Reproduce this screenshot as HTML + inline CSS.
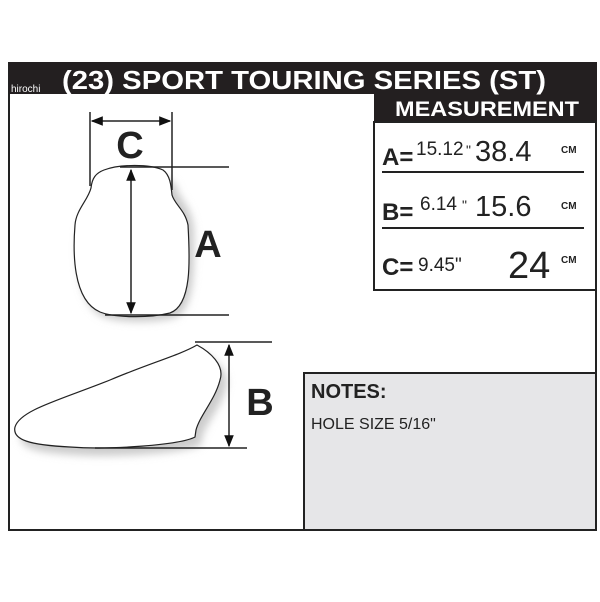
<!DOCTYPE html>
<html><head><style>
body{margin:0;width:600px;height:597px;background:#fff;overflow:hidden;font-family:"Liberation Sans",sans-serif}
</style></head><body>
<svg width="600" height="597" viewBox="0 0 600 597" xmlns="http://www.w3.org/2000/svg">
<defs>
<marker id="ah" viewBox="0 0 10 10" refX="9" refY="5" markerWidth="8" markerHeight="8" orient="auto-start-reverse"><path d="M0,1 L10,5 L0,9 Z" fill="#111"/></marker>
<filter id="sh" x="-20%" y="-20%" width="140%" height="140%"><feGaussianBlur stdDeviation="4"/></filter>
</defs>
<rect x="9" y="63" width="587" height="467" fill="#fff" stroke="#222" stroke-width="2"/>
<rect x="9" y="62" width="588" height="32" fill="#231f20"/>
<rect x="374" y="92" width="223" height="30" fill="#231f20"/>
<text x="62" y="89" fill="#fff" font-size="26" font-weight="bold" textLength="484" lengthAdjust="spacingAndGlyphs">(23) SPORT TOURING SERIES  (ST)</text>
<text x="11" y="92" fill="#fff" font-size="10">hirochi</text>
<text x="395" y="116" fill="#fff" font-size="21" font-weight="bold" textLength="184" lengthAdjust="spacingAndGlyphs">MEASUREMENT</text>
<rect x="374" y="122" width="222" height="168" fill="#fff" stroke="#222" stroke-width="2"/>
<line x1="382" y1="172" x2="584" y2="172" stroke="#222" stroke-width="2"/>
<line x1="382" y1="228" x2="584" y2="228" stroke="#222" stroke-width="2"/>
<g fill="#222">
<text x="382" y="165" font-size="24" font-weight="bold">A=</text>
<text x="416" y="155" font-size="19">15.12</text><text x="466" y="155" font-size="14">"</text>
<text x="475" y="161" font-size="29">38.4</text><text x="561" y="153" font-size="10" font-weight="bold">CM</text>
<text x="382" y="220" font-size="24" font-weight="bold">B=</text>
<text x="420" y="210" font-size="19">6.14</text><text x="462" y="210" font-size="14">"</text>
<text x="475" y="216" font-size="29">15.6</text><text x="561" y="209" font-size="10" font-weight="bold">CM</text>
<text x="382" y="275" font-size="24" font-weight="bold">C=</text>
<text x="418" y="271" font-size="19">9.45"</text>
<text x="508" y="278" font-size="38">24</text><text x="561" y="263" font-size="10" font-weight="bold">CM</text>
</g>
<rect x="304" y="373" width="292" height="157" fill="#e6e6e8" stroke="#222" stroke-width="2"/>
<text x="311" y="398" font-size="20" font-weight="bold" fill="#222">NOTES:</text>
<text x="311" y="429" font-size="16" fill="#222">HOLE SIZE 5/16"</text>
<!-- top view -->
<path d="M92,180 C110,163 155,163 172,180 C175,195 188,200 190,225 C190,260 192,305 170,313 C150,318 115,318 100,312 C72,300 73,250 75,225 C76,205 90,200 92,190 Z" fill="#ccc" filter="url(#sh)" transform="translate(4,5)"/>
<path d="M91,188 C92,178 96,173 104,170 C120,164 150,164 163,170 C170,175 171,185 172,195 C175,205 185,210 188,225 C190,260 192,305 170,313 C150,318 115,318 100,312 C72,300 73,250 75,225 C76,210 88,200 91,188 Z" fill="#fff" stroke="#222" stroke-width="1.2"/>
<line x1="90" y1="112" x2="90" y2="186" stroke="#222" stroke-width="1.5"/>
<line x1="172" y1="112" x2="172" y2="190" stroke="#222" stroke-width="1.5"/>
<line x1="92" y1="121" x2="170" y2="121" stroke="#222" stroke-width="1.5" marker-start="url(#ah)" marker-end="url(#ah)"/>
<text x="130" y="158" font-size="38" font-weight="bold" text-anchor="middle" fill="#222">C</text>
<line x1="120" y1="167" x2="229" y2="167" stroke="#222" stroke-width="1.5"/>
<line x1="105" y1="315" x2="229" y2="315" stroke="#222" stroke-width="1.5"/>
<line x1="131" y1="170" x2="131" y2="313" stroke="#222" stroke-width="1.5" marker-start="url(#ah)" marker-end="url(#ah)"/>
<text x="208" y="257" font-size="38" font-weight="bold" text-anchor="middle" fill="#222">A</text>
<!-- side view -->
<path d="M197,345 C210,352 225,365 220,380 C215,400 200,415 196,430 L195,437 C180,445 110,450 70,447 C30,445 12,440 15,427 C20,410 60,400 110,380 C150,363 180,355 197,345 Z" fill="#ccc" filter="url(#sh)" transform="translate(6,8)"/>
<path d="M197,345 C210,352 225,365 220,380 C215,400 200,415 196,430 L195,437 C180,445 110,450 70,447 C30,445 12,440 15,427 C20,410 60,400 110,380 C150,363 180,355 197,345 Z" fill="#fff" stroke="#222" stroke-width="1.2"/>
<line x1="195" y1="342" x2="272" y2="342" stroke="#222" stroke-width="1.5"/>
<line x1="95" y1="448" x2="247" y2="448" stroke="#222" stroke-width="1.5"/>
<line x1="229" y1="345" x2="229" y2="446" stroke="#222" stroke-width="1.5" marker-start="url(#ah)" marker-end="url(#ah)"/>
<text x="260" y="415" font-size="38" font-weight="bold" text-anchor="middle" fill="#222">B</text>
</svg>
</body></html>
